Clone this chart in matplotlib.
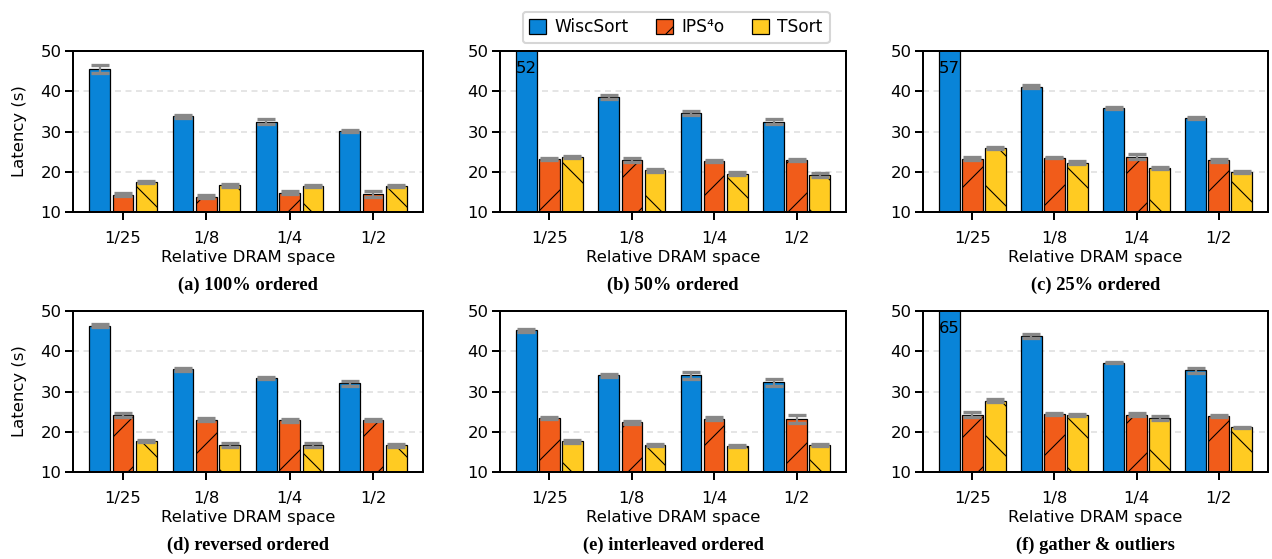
import matplotlib
matplotlib.use("Agg")
import matplotlib.pyplot as plt
import numpy as np

# ---------------- data ----------------
categories = ["1/25", "1/8", "1/4", "1/2"]
series_names = ["WiscSort", "IPS\u2074o", "TSort"]
subtitles = ["(a) 100% ordered", "(b) 50% ordered", "(c) 25% ordered",
             "(d) reversed ordered", "(e) interleaved ordered", "(f) gather & outliers"]

wisc_a = [45.5, 33.8, 32.4, 30.1]
ips_a = [14.3, 13.8, 14.8, 14.5]
tsort_a = [17.5, 16.6, 16.5, 16.5]
wisc_a_err = [1.0, 0.4, 0.65, 0.2]
ips_a_err = [0.35, 0.35, 0.45, 0.7]
tsort_a_err = [0.25, 0.3, 0.25, 0.25]

wisc_b = [52, 38.5, 34.6, 32.4]
ips_b = [23.2, 22.8, 22.7, 22.9]
tsort_b = [23.7, 20.4, 19.5, 19.25]
wisc_b_err = [0.5, 0.5, 0.45, 0.6]
ips_b_err = [0.2, 0.5, 0.3, 0.25]
tsort_b_err = [0.25, 0.4, 0.35, 0.45]

wisc_c = [57, 41.1, 35.9, 33.4]
ips_c = [23.2, 23.5, 23.7, 22.8]
tsort_c = [25.9, 22.25, 20.9, 19.9]
wisc_c_err = [0.5, 0.4, 0.3, 0.2]
ips_c_err = [0.4, 0.2, 0.6, 0.3]
tsort_c_err = [0.2, 0.3, 0.25, 0.25]

wisc_d = [46.3, 35.5, 33.3, 32.0]
ips_d = [24.2, 22.95, 22.8, 22.95]
tsort_d = [17.75, 16.75, 16.75, 16.6]
wisc_d_err = [0.35, 0.3, 0.25, 0.65]
ips_d_err = [0.55, 0.35, 0.3, 0.25]
tsort_d_err = [0.25, 0.5, 0.5, 0.3]

wisc_e = [45.2, 34.0, 34.0, 32.25]
ips_e = [23.4, 22.3, 23.2, 23.2]
tsort_e = [17.6, 16.6, 16.5, 16.7]
wisc_e_err = [0.35, 0.35, 0.8, 0.8]
ips_e_err = [0.25, 0.3, 0.4, 1.0]
tsort_e_err = [0.4, 0.25, 0.25, 0.25]

wisc_f = [65, 43.75, 37.2, 35.25]
ips_f = [24.2, 24.3, 24.25, 23.9]
tsort_f = [27.75, 24.1, 23.4, 21.1]
wisc_f_err = [0.5, 0.5, 0.2, 0.6]
ips_f_err = [0.65, 0.25, 0.4, 0.3]
tsort_f_err = [0.35, 0.25, 0.5, 0.2]

panels = [
    (wisc_a, ips_a, tsort_a, wisc_a_err, ips_a_err, tsort_a_err),
    (wisc_b, ips_b, tsort_b, wisc_b_err, ips_b_err, tsort_b_err),
    (wisc_c, ips_c, tsort_c, wisc_c_err, ips_c_err, tsort_c_err),
    (wisc_d, ips_d, tsort_d, wisc_d_err, ips_d_err, tsort_d_err),
    (wisc_e, ips_e, tsort_e, wisc_e_err, ips_e_err, tsort_e_err),
    (wisc_f, ips_f, tsort_f, wisc_f_err, ips_f_err, tsort_f_err),
]

# ---------------- style ----------------
colors = ["#0984d8", "#f15c1a", "#ffcb22"]
hatches = ["", "/", "\\"]
YMAX = 50

DPI = 150
W, H = 1272, 559
P = 72.0 / DPI  # points per pixel

plt.rcParams["hatch.linewidth"] = 1.1 * P
plt.rcParams["font.family"] = ["DejaVu Sans"]
FS = 16.5 * P

fig = plt.figure(figsize=(W / DPI, H / DPI), dpi=DPI)

col_px = [(73, 423), (500, 846), (923, 1268)]
row_px = [(51, 212), (311, 472)]

x = np.arange(len(categories))
bw = 0.25
off = 0.28

bar_handles = None
for i, data in enumerate(panels):
    r, c = divmod(i, 3)
    l, rr = col_px[c]
    t, b = row_px[r]
    ax = fig.add_axes([l / W, 1 - b / H, (rr - l) / W, (b - t) / H])
    vals = data[:3]
    errs = data[3:]
    handles = []
    for k in range(3):
        pos = x + (k - 1) * off
        h = ax.bar(pos, vals[k], width=bw, color=colors[k], edgecolor="black",
                   linewidth=1.25 * P, hatch=hatches[k], zorder=2)
        handles.append(h)
        ax.errorbar(pos, vals[k], yerr=errs[k], fmt="none", ecolor="#888888",
                    elinewidth=2.2 * P, capsize=9 * P, capthick=3.3 * P, zorder=3)
        for xi, v in zip(pos, vals[k]):
            if v > YMAX:
                ax.text(xi, YMAX - 2.4, f"{v:g}", ha="center", va="top",
                        fontsize=FS, zorder=4)
    if bar_handles is None:
        bar_handles = handles
    ax.set_ylim(10, YMAX)
    ax.set_xlim(-0.6, 3.6)
    ax.set_yticks([10, 20, 30, 40, 50])
    ax.set_xticks(x)
    ax.set_xticklabels(categories)
    ax.tick_params(axis="both", labelsize=FS, length=8 * P, width=2 * P)
    ax.tick_params(axis="x", pad=11.5 * P)
    ax.tick_params(axis="y", pad=3.75 * P)
    ax.yaxis.grid(True, linestyle=(0, (4, 3)), color="#dddddd", linewidth=1.5 * P)
    ax.set_axisbelow(True)
    for s in ax.spines.values():
        s.set_linewidth(2 * P)
    ax.set_xlabel("Relative DRAM space", fontsize=FS, labelpad=3.75 * P)
    if c == 0:
        ax.set_ylabel("Latency (s)", fontsize=FS, labelpad=13 * P)
    fig.text(((l + rr) / 2) / W, 1 - (b + 73) / H, subtitles[i],
             ha="center", va="center", fontsize=18.5 * P, fontweight="bold",
             family="Liberation Serif")

fig.legend(bar_handles, series_names, loc="upper center",
           bbox_to_anchor=(676 / W, 1 - 3 / H), ncol=3, fontsize=17 * P,
           frameon=True, fancybox=True, edgecolor="#cccccc",
           handlelength=1.0, handleheight=1.0, handletextpad=0.5,
           columnspacing=1.6, borderpad=0.4)

fig.savefig("out.png", dpi=DPI)
